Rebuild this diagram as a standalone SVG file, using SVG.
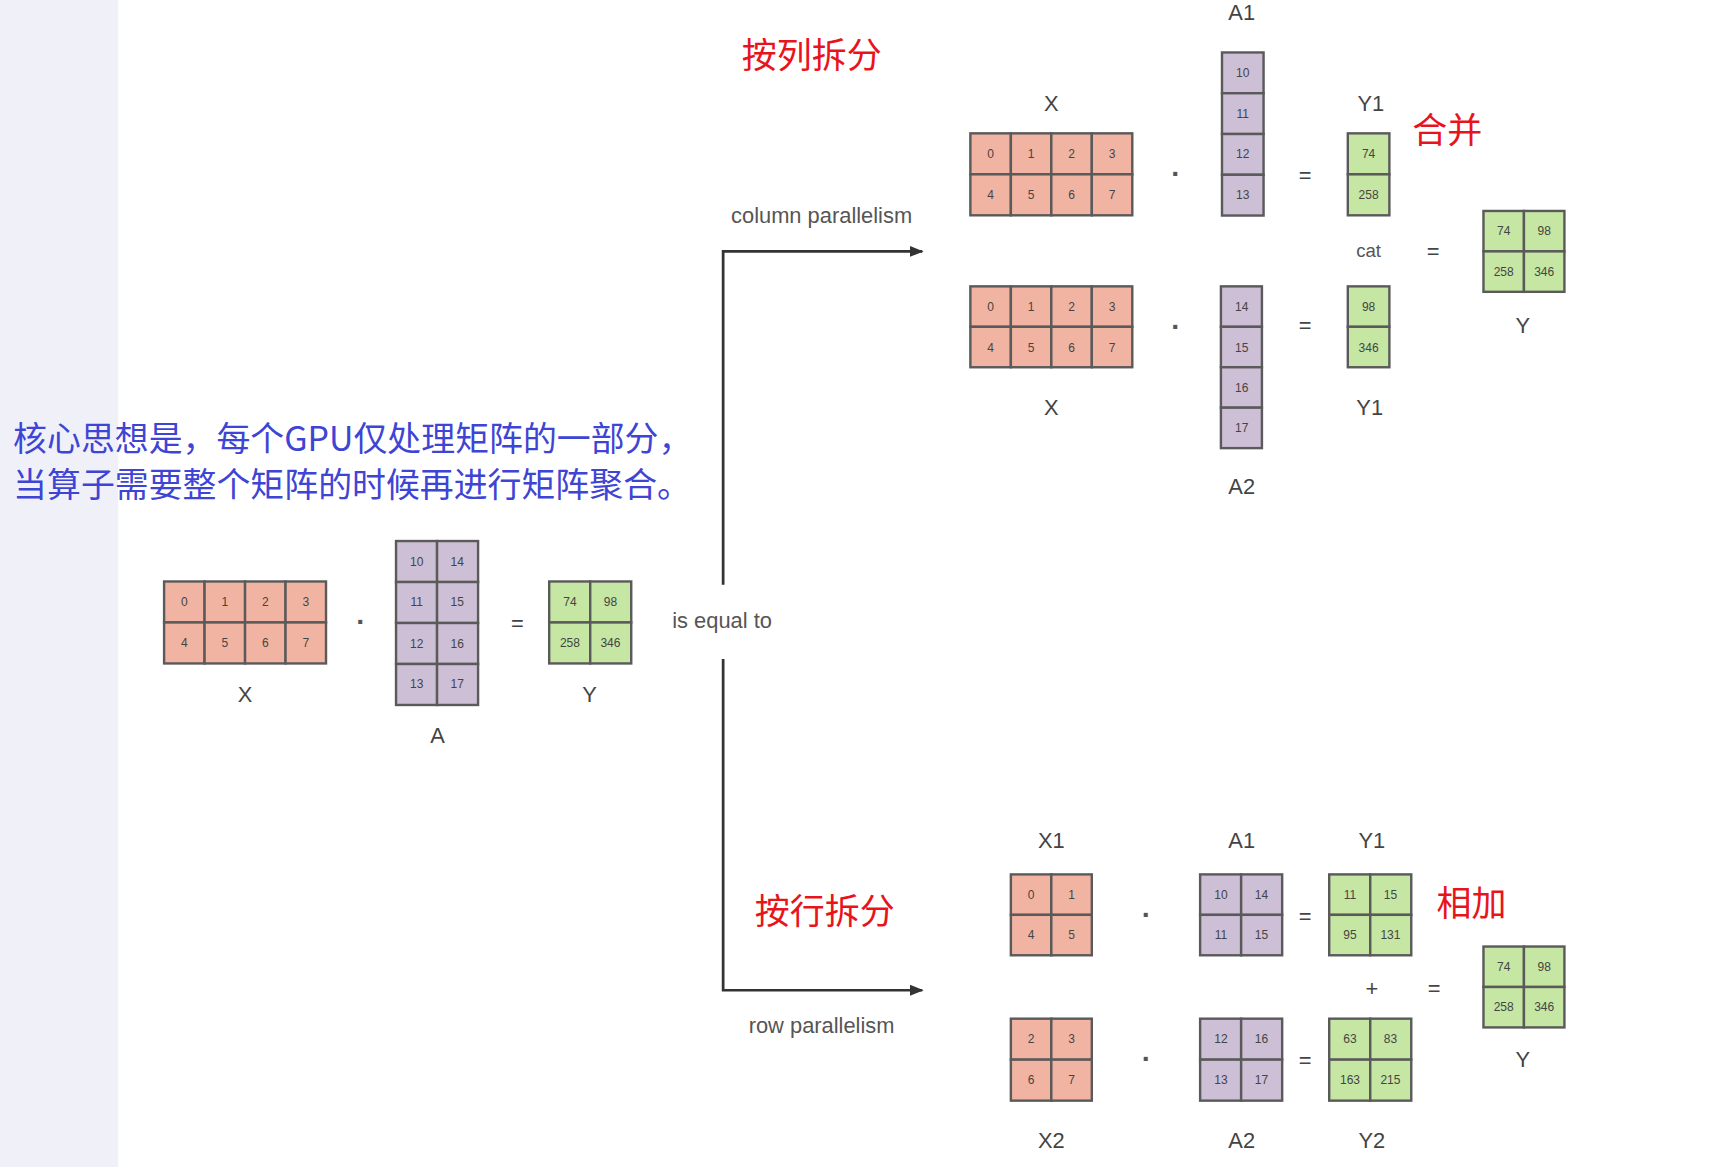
<svg xmlns="http://www.w3.org/2000/svg" width="1712" height="1167" viewBox="0 0 1712 1167">
<defs>
<style>
.r{fill:#f2b4a2;stroke:#5a5a5a;stroke-width:2.2}
.p{fill:#cdbfd6;stroke:#5a5a5a;stroke-width:2.2}
.g{fill:#c6e6a3;stroke:#5a5a5a;stroke-width:2.2}
.n{font-family:"Liberation Sans",sans-serif;font-size:11px;fill:#444;text-anchor:middle;dominant-baseline:central}
.l{font-family:"Liberation Sans",sans-serif;font-size:20px;fill:#444;text-anchor:middle}
.d{font-family:"Liberation Sans",sans-serif;font-size:26px;font-weight:bold;fill:#555;text-anchor:middle}
.o{font-family:"Liberation Sans",sans-serif;font-size:20px;fill:#555;text-anchor:middle}
.red{font-family:"Noto Sans CJK SC",sans-serif;font-size:32px;fill:#e8141c}
.blue{font-family:"Noto Sans CJK SC",sans-serif;font-size:31px;fill:#3e44d4}
.c{fill:none;stroke:#333;stroke-width:2.5}
</style>
<marker id="ah" viewBox="0 0 10 10" refX="9" refY="5" markerWidth="5" markerHeight="5" orient="auto"><path d="M0,1 L10,5 L0,9 z" fill="#333"/></marker>
</defs>
<rect width="1712" height="1167" fill="#fff"/>
<g transform="scale(1.094,1.093)">
<rect x="0" y="0" width="108" height="1070" fill="#f0f1f8"/>
<g id="note"><text class="blue" x="12" y="413">核心思想是，每个GPU仅处理矩阵的一部分，</text><text class="blue" x="12" y="455">当算子需要整个矩阵的时候再进行矩阵聚合。</text></g>
<g id="labels"><text class="red" x="678" y="62">按列拆分</text><text class="red" x="690" y="845">按行拆分</text><text class="red" x="1291" y="131">合并</text><text class="red" x="1313" y="838">相加</text></g>

<g id="connectors">
<path class="c" d="M661,535 V230 H843" marker-end="url(#ah)"/>
<path class="c" d="M661,603 V906 H843" marker-end="url(#ah)"/>
<text class="o" x="751" y="204">column parallelism</text>
<text class="o" x="751" y="945">row parallelism</text>
<text class="o" x="660" y="575">is equal to</text>
</g>

<g id="main">
<g transform="translate(150,532)"><rect class="r" x="0" y="0" width="37" height="37.5"/><rect class="r" x="37" y="0" width="37" height="37.5"/><rect class="r" x="74" y="0" width="37" height="37.5"/><rect class="r" x="111" y="0" width="37" height="37.5"/><rect class="r" x="0" y="37.5" width="37" height="37.5"/><rect class="r" x="37" y="37.5" width="37" height="37.5"/><rect class="r" x="74" y="37.5" width="37" height="37.5"/><rect class="r" x="111" y="37.5" width="37" height="37.5"/>
<text class="n" x="18.5" y="19">0</text><text class="n" x="55.5" y="19">1</text><text class="n" x="92.5" y="19">2</text><text class="n" x="129.5" y="19">3</text><text class="n" x="18.5" y="56">4</text><text class="n" x="55.5" y="56">5</text><text class="n" x="92.5" y="56">6</text><text class="n" x="129.5" y="56">7</text></g>
<text class="l" x="224" y="642">X</text>
<text class="d" x="330" y="577">·</text>
<g transform="translate(362,495)"><rect class="p" x="0" y="0" width="37.5" height="37.5"/><rect class="p" x="37.5" y="0" width="37.5" height="37.5"/><rect class="p" x="0" y="37.5" width="37.5" height="37.5"/><rect class="p" x="37.5" y="37.5" width="37.5" height="37.5"/><rect class="p" x="0" y="75" width="37.5" height="37.5"/><rect class="p" x="37.5" y="75" width="37.5" height="37.5"/><rect class="p" x="0" y="112.5" width="37.5" height="37.5"/><rect class="p" x="37.5" y="112.5" width="37.5" height="37.5"/>
<text class="n" x="19" y="19">10</text><text class="n" x="56" y="19">14</text><text class="n" x="19" y="56">11</text><text class="n" x="56" y="56">15</text><text class="n" x="19" y="94">12</text><text class="n" x="56" y="94">16</text><text class="n" x="19" y="131">13</text><text class="n" x="56" y="131">17</text></g>
<text class="l" x="400" y="680">A</text>
<text class="l" x="473" y="577">=</text>
<g transform="translate(502,532)"><rect class="g" x="0" y="0" width="37.5" height="37.5"/><rect class="g" x="37.5" y="0" width="37.5" height="37.5"/><rect class="g" x="0" y="37.5" width="37.5" height="37.5"/><rect class="g" x="37.5" y="37.5" width="37.5" height="37.5"/>
<text class="n" x="19" y="19">74</text><text class="n" x="56" y="19">98</text><text class="n" x="19" y="56">258</text><text class="n" x="56" y="56">346</text></g>
<text class="l" x="539" y="642">Y</text>
</g>

<g id="col-top">
<text class="l" x="961" y="102">X</text>
<g transform="translate(887,122)"><rect class="r" x="0" y="0" width="37" height="37.5"/><rect class="r" x="37" y="0" width="37" height="37.5"/><rect class="r" x="74" y="0" width="37" height="37.5"/><rect class="r" x="111" y="0" width="37" height="37.5"/><rect class="r" x="0" y="37.5" width="37" height="37.5"/><rect class="r" x="37" y="37.5" width="37" height="37.5"/><rect class="r" x="74" y="37.5" width="37" height="37.5"/><rect class="r" x="111" y="37.5" width="37" height="37.5"/>
<text class="n" x="18.5" y="19">0</text><text class="n" x="55.5" y="19">1</text><text class="n" x="92.5" y="19">2</text><text class="n" x="129.5" y="19">3</text><text class="n" x="18.5" y="56">4</text><text class="n" x="55.5" y="56">5</text><text class="n" x="92.5" y="56">6</text><text class="n" x="129.5" y="56">7</text></g>
<text class="d" x="1075" y="167">·</text>
<text class="l" x="1135" y="18">A1</text>
<g transform="translate(1117,48)"><rect class="p" x="0" y="0" width="38" height="37.3"/><rect class="p" x="0" y="37.3" width="38" height="37.3"/><rect class="p" x="0" y="74.6" width="38" height="37.3"/><rect class="p" x="0" y="111.9" width="38" height="37.3"/>
<text class="n" x="19" y="19">10</text><text class="n" x="19" y="56">11</text><text class="n" x="19" y="93">12</text><text class="n" x="19" y="130">13</text></g>
<text class="l" x="1193" y="167">=</text>
<text class="l" x="1253" y="102">Y1</text>
<g transform="translate(1232,122)"><rect class="g" x="0" y="0" width="38" height="37.5"/><rect class="g" x="0" y="37.5" width="38" height="37.5"/>
<text class="n" x="19" y="19">74</text><text class="n" x="19" y="56">258</text></g>
</g>

<g id="col-bottom">
<g transform="translate(887,262)"><rect class="r" x="0" y="0" width="37" height="37"/><rect class="r" x="37" y="0" width="37" height="37"/><rect class="r" x="74" y="0" width="37" height="37"/><rect class="r" x="111" y="0" width="37" height="37"/><rect class="r" x="0" y="37" width="37" height="37"/><rect class="r" x="37" y="37" width="37" height="37"/><rect class="r" x="74" y="37" width="37" height="37"/><rect class="r" x="111" y="37" width="37" height="37"/>
<text class="n" x="18.5" y="19">0</text><text class="n" x="55.5" y="19">1</text><text class="n" x="92.5" y="19">2</text><text class="n" x="129.5" y="19">3</text><text class="n" x="18.5" y="56">4</text><text class="n" x="55.5" y="56">5</text><text class="n" x="92.5" y="56">6</text><text class="n" x="129.5" y="56">7</text></g>
<text class="l" x="961" y="380">X</text>
<text class="d" x="1075" y="307">·</text>
<g transform="translate(1116,262)"><rect class="p" x="0" y="0" width="37.5" height="37"/><rect class="p" x="0" y="37" width="37.5" height="37"/><rect class="p" x="0" y="74" width="37.5" height="37"/><rect class="p" x="0" y="111" width="37.5" height="37"/>
<text class="n" x="19" y="19">14</text><text class="n" x="19" y="56">15</text><text class="n" x="19" y="93">16</text><text class="n" x="19" y="130">17</text></g>
<text class="l" x="1135" y="452">A2</text>
<text class="l" x="1193" y="305">=</text>
<g transform="translate(1232,262)"><rect class="g" x="0" y="0" width="38" height="37"/><rect class="g" x="0" y="37" width="38" height="37"/>
<text class="n" x="19" y="19">98</text><text class="n" x="19" y="56">346</text></g>
<text class="l" x="1252" y="380">Y1</text>
</g>

<g id="col-result">
<text class="o" x="1251" y="235" style="font-size:17px">cat</text>
<text class="l" x="1310" y="237">=</text>
<g transform="translate(1356,193)"><rect class="g" x="0" y="0" width="37" height="37"/><rect class="g" x="37" y="0" width="37" height="37"/><rect class="g" x="0" y="37" width="37" height="37"/><rect class="g" x="37" y="37" width="37" height="37"/>
<text class="n" x="18.5" y="18.5">74</text><text class="n" x="55.5" y="18.5">98</text><text class="n" x="18.5" y="55.5">258</text><text class="n" x="55.5" y="55.5">346</text></g>
<text class="l" x="1392" y="305">Y</text>
</g>

<g id="row-top">
<text class="l" x="961" y="776">X1</text>
<g transform="translate(924,800)"><rect class="r" x="0" y="0" width="37" height="37"/><rect class="r" x="37" y="0" width="37" height="37"/><rect class="r" x="0" y="37" width="37" height="37"/><rect class="r" x="37" y="37" width="37" height="37"/>
<text class="n" x="18.5" y="18.5">0</text><text class="n" x="55.5" y="18.5">1</text><text class="n" x="18.5" y="55.5">4</text><text class="n" x="55.5" y="55.5">5</text></g>
<text class="d" x="1048" y="845">·</text>
<text class="l" x="1135" y="776">A1</text>
<g transform="translate(1097,800)"><rect class="p" x="0" y="0" width="37.5" height="37"/><rect class="p" x="37.5" y="0" width="37.5" height="37"/><rect class="p" x="0" y="37" width="37.5" height="37"/><rect class="p" x="37.5" y="37" width="37.5" height="37"/>
<text class="n" x="19" y="18.5">10</text><text class="n" x="56" y="18.5">14</text><text class="n" x="19" y="55.5">11</text><text class="n" x="56" y="55.5">15</text></g>
<text class="l" x="1193" y="845">=</text>
<text class="l" x="1254" y="776">Y1</text>
<g transform="translate(1215,800)"><rect class="g" x="0" y="0" width="37.5" height="37"/><rect class="g" x="37.5" y="0" width="37.5" height="37"/><rect class="g" x="0" y="37" width="37.5" height="37"/><rect class="g" x="37.5" y="37" width="37.5" height="37"/>
<text class="n" x="19" y="18.5">11</text><text class="n" x="56" y="18.5">15</text><text class="n" x="19" y="55.5">95</text><text class="n" x="56" y="55.5">131</text></g>
</g>

<g id="row-bottom">
<g transform="translate(924,932)"><rect class="r" x="0" y="0" width="37" height="37.5"/><rect class="r" x="37" y="0" width="37" height="37.5"/><rect class="r" x="0" y="37.5" width="37" height="37.5"/><rect class="r" x="37" y="37.5" width="37" height="37.5"/>
<text class="n" x="18.5" y="19">2</text><text class="n" x="55.5" y="19">3</text><text class="n" x="18.5" y="56">6</text><text class="n" x="55.5" y="56">7</text></g>
<text class="l" x="961" y="1050">X2</text>
<text class="d" x="1048" y="977">·</text>
<g transform="translate(1097,932)"><rect class="p" x="0" y="0" width="37.5" height="37.5"/><rect class="p" x="37.5" y="0" width="37.5" height="37.5"/><rect class="p" x="0" y="37.5" width="37.5" height="37.5"/><rect class="p" x="37.5" y="37.5" width="37.5" height="37.5"/>
<text class="n" x="19" y="19">12</text><text class="n" x="56" y="19">16</text><text class="n" x="19" y="56">13</text><text class="n" x="56" y="56">17</text></g>
<text class="l" x="1135" y="1050">A2</text>
<text class="l" x="1193" y="977">=</text>
<g transform="translate(1215,932)"><rect class="g" x="0" y="0" width="37.5" height="37.5"/><rect class="g" x="37.5" y="0" width="37.5" height="37.5"/><rect class="g" x="0" y="37.5" width="37.5" height="37.5"/><rect class="g" x="37.5" y="37.5" width="37.5" height="37.5"/>
<text class="n" x="19" y="19">63</text><text class="n" x="56" y="19">83</text><text class="n" x="19" y="56">163</text><text class="n" x="56" y="56">215</text></g>
<text class="l" x="1254" y="1050">Y2</text>
</g>

<g id="row-result">
<text class="l" x="1254" y="911">+</text>
<text class="l" x="1311" y="911">=</text>
<g transform="translate(1356,866)"><rect class="g" x="0" y="0" width="37" height="37"/><rect class="g" x="37" y="0" width="37" height="37"/><rect class="g" x="0" y="37" width="37" height="37"/><rect class="g" x="37" y="37" width="37" height="37"/>
<text class="n" x="18.5" y="18.5">74</text><text class="n" x="55.5" y="18.5">98</text><text class="n" x="18.5" y="55.5">258</text><text class="n" x="55.5" y="55.5">346</text></g>
<text class="l" x="1392" y="976">Y</text>
</g>
</g>
</svg>
